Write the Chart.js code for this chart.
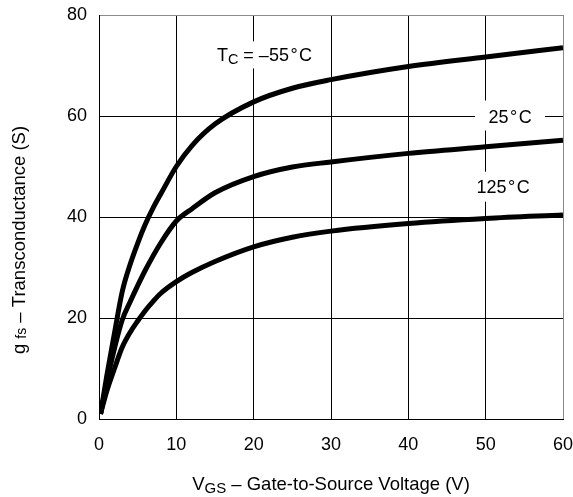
<!DOCTYPE html>
<html><head><meta charset="utf-8">
<script src="https://cdn.jsdelivr.net/npm/chart.js@4"></script>
<style>html,body{margin:0;padding:0;background:#fff}</style>
</head><body>
<canvas id="c" width="573" height="497"></canvas>
<script>
// ---- data ----
const xTickValues = [0, 10, 20, 30, 40, 50, 60];
const yTickValues = [0, 20, 40, 60, 80];

const vgsM55 = [0.2, 1, 2, 3, 4, 5, 6, 7, 8, 10, 12, 15, 20, 25, 30, 40, 50, 60];
const gfsM55 = [1, 8.5, 17, 25.2, 30.5, 34.8, 38.6, 41.8, 44.6, 50, 54.1, 58.4, 62.8, 65.5, 67.2, 69.8, 71.7, 73.5];

const vgs25 = [0.2, 1, 2, 3, 4, 5, 6, 8, 10, 12, 15, 20, 25, 30, 40, 50, 60];
const gfs25 = [1, 7.3, 14, 19.6, 23.1, 26.4, 29.5, 34.9, 39.2, 41.6, 44.8, 48, 49.9, 50.9, 52.6, 53.9, 55.2];

const vgs125 = [0.2, 1, 2, 3, 4, 5, 6, 7, 8, 10, 12, 15, 20, 25, 30, 40, 50, 60];
const gfs125 = [1, 5.5, 10, 14.2, 17.1, 19.4, 21.5, 23.3, 24.9, 27.2, 29, 31.2, 34.1, 36, 37.2, 38.7, 39.7, 40.4];

const seriesNames = ['TC = -55°C', '25°C', '125°C'];

// ---- presentation ----
const FONT = "'Liberation Sans', Arial, Helvetica, sans-serif";
const TICK = 18;
const LBL = 18;
const toPts = (xs, ys) => xs.map((v, i) => ({x: v, y: ys[i]}));

const annotations = [
  {parts: [['T', LBL, 0], ['C', 14.5, 2.5], [' = \u201355\u200A\u00B0\u200AC', LBL, 0]], x: 21.4, y: 72.1, w: 128, h: 27},
  {parts: [['25\u200A\u00B0\u200AC', LBL, 0]], x: 53.15, y: 59.9, w: 70, h: 30, boxDy: -1},
  {parts: [['125\u200A\u00B0\u200AC', LBL, 0]], x: 52.25, y: 46.0, w: 80, h: 30}
];

function richWidth(ctx, parts) {
  let w = 0;
  parts.forEach(p => { ctx.font = p[1] + 'px ' + FONT; w += ctx.measureText(p[0]).width; });
  return w;
}
function drawRich(ctx, parts, cx, baseline) {
  let xx = cx - richWidth(ctx, parts) / 2;
  ctx.textAlign = 'left';
  ctx.textBaseline = 'alphabetic';
  parts.forEach(p => {
    ctx.font = p[1] + 'px ' + FONT;
    ctx.fillText(p[0], xx, baseline + p[2]);
    xx += ctx.measureText(p[0]).width;
  });
}

const textPlugin = {
  id: 'textPlugin',
  beforeDatasetsDraw(chart) {
    const {ctx, scales: {x, y}} = chart;
    ctx.save();
    annotations.forEach(a => {
      const cx = x.getPixelForValue(a.x), cy = y.getPixelForValue(a.y);
      ctx.fillStyle = '#fff';
      ctx.fillRect(cx - a.w / 2, cy - a.h / 2 + (a.boxDy || 0), a.w, a.h);
      ctx.fillStyle = '#000';
      drawRich(ctx, a.parts, cx, cy + 0.716 * LBL / 2);
    });
    ctx.restore();
  },
  afterDraw(chart) {
    const {ctx, chartArea} = chart;
    ctx.save();
    ctx.fillStyle = '#000';
    const cxT = (chartArea.left + chartArea.right) / 2;
    drawRich(ctx, [['V', 18.5, 0], ['GS', 15, 3.3], [' \u2013 Gate-to-Source Voltage (V)', 18.5, 0]], cxT, 490);
    ctx.translate(25, 240);
    ctx.rotate(-Math.PI / 2);
    drawRich(ctx, [['g ', 18.5, 0], ['fs', 14, 1], [' \u2013 Transconductance (S)', 18.5, 0]], 0, 0);
    ctx.restore();
  }
};

const lineDs = (label, xs, ys) => ({
  label, data: toPts(xs, ys),
  borderColor: '#000', borderWidth: 5, pointRadius: 0,
  fill: false, cubicInterpolationMode: 'monotone'
});

new Chart(document.getElementById('c'), {
  type: 'line',
  data: {
    datasets: [
      lineDs(seriesNames[0], vgsM55, gfsM55),
      lineDs(seriesNames[1], vgs25, gfs25),
      lineDs(seriesNames[2], vgs125, gfs125)
    ]
  },
  plugins: [textPlugin],
  options: {
    responsive: false,
    animation: false,
    devicePixelRatio: 1,
    layout: {padding: {left: 0, right: 10, top: 15, bottom: 0}},
    plugins: {legend: {display: false}, tooltip: {enabled: false}},
    scales: {
      x: {
        type: 'linear', min: 0, max: 60,
        afterBuildTicks: s => { s.ticks = xTickValues.map(v => ({value: v})); },
        afterFit: s => { s.height = 78; s.paddingLeft = 0; s.paddingRight = 0; s.paddingTop = 0; s.paddingBottom = 0; },
        ticks: {font: {family: FONT, size: TICK}, color: '#000', padding: 15, maxRotation: 0},
        grid: {
          drawTicks: false,
          color: c => (c.tick && c.tick.value === 60) ? '#8a8a8a' : '#000',
          lineWidth: 1
        },
        border: {color: '#000', width: 1}
      },
      y: {
        type: 'linear', min: 0, max: 80,
        afterBuildTicks: s => { s.ticks = yTickValues.map(v => ({value: v})); },
        afterFit: s => { s.width = 99; s.paddingLeft = 0; s.paddingRight = 0; s.paddingTop = 0; s.paddingBottom = 0; },
        ticks: {font: {family: FONT, size: TICK}, color: '#000', padding: 12},
        grid: {
          drawTicks: false,
          color: c => (c.tick && c.tick.value === 80) ? '#8a8a8a' : '#000',
          lineWidth: 1
        },
        border: {color: '#000', width: 1}
      }
    }
  }
});
</script>
</body></html>
